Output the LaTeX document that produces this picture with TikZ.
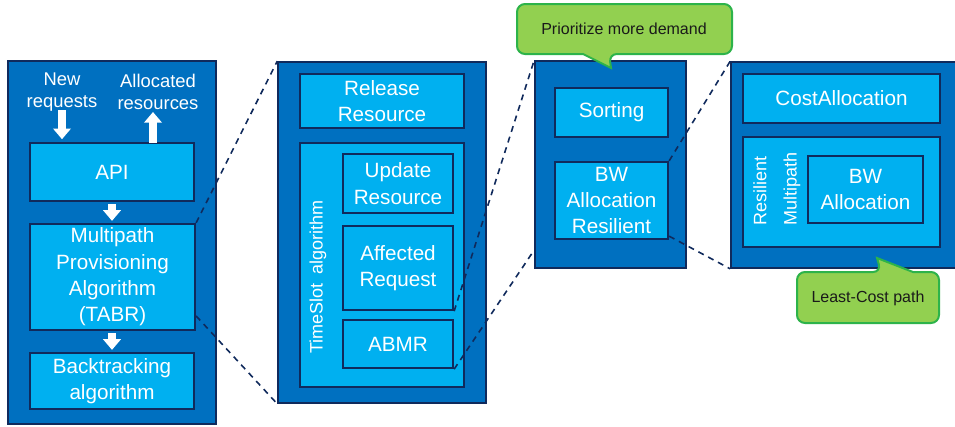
\documentclass[tikz,border=0pt]{standalone}
\usepackage{fontspec}
\setmainfont{Liberation Sans}
\usetikzlibrary{fit,arrows.meta,calc}

\definecolor{panelblue}{HTML}{0070C0}
\definecolor{lightblue}{HTML}{00B0F0}
\definecolor{navy}{HTML}{102A5C}
\definecolor{notegreen}{HTML}{92D050}
\definecolor{noteedge}{HTML}{2DB34A}
\definecolor{notetext}{HTML}{1A1A1A}

\tikzset{
  panel/.style={fill=panelblue, draw=navy, line width=1.2pt, inner sep=0pt},
  inbox/.style={fill=lightblue, draw=navy, line width=1.7pt, inner sep=0pt},
  boxtext/.style={text=white, align=center, inner sep=0pt,
    font=\fontsize{15.5}{19.8}\selectfont},
  lbl/.style={text=white, align=center, inner sep=0pt,
    font=\fontsize{13.8}{16.3}\selectfont},
  sidelbl/.style={text=white, rotate=90, inner sep=0pt,
    font=\fontsize{13.5}{16}\selectfont},
  zoomline/.style={draw=navy, line width=1.2pt, dash pattern=on 4.5pt off 3.8pt},
  blockarrow/.style={draw=white, line width=6.2pt,
    -{Triangle[length=8pt,width=13pt]}},
  note/.style={fill=notegreen, draw=noteedge, line width=1.5pt},
  notelbl/.style={text=notetext, inner sep=0pt, font=\fontsize{12}{14}\selectfont}
}

\begin{document}
\begin{tikzpicture}[x=0.75pt, y=-0.75pt]
  \useasboundingbox (0,0) rectangle (955,426);
  \clip (0,0) rectangle (955,426);

  % ---- panel 1: overall provisioning flow ----
  \node[panel, fit={(8,61) (216,424)}] (p1) {};
  \node[inbox, fit={(30,143) (194,201)},
    label={[boxtext]center:API}] (api) {};
  \node[inbox, fit={(30,224) (195,330)},
    label={[boxtext]center:{Multipath\\Provisioning\\Algorithm\\(TABR)}}] (multi) {};
  \node[inbox, fit={(30,353) (194,409)},
    label={[boxtext]center:{Backtracking\\algorithm}}] (back) {};

  \node[lbl] (newreq) at (62,92) {New\\requests};
  \node[lbl] (allocres) at (158,92) {Allocated\\resources};

  \coordinate (dntop) at (62,110);
  \coordinate (upfoot) at (153,143);
  \coordinate (uptip) at (153,112);
  \draw[blockarrow, shorten >=2pt] (dntop) -- (dntop |- api.north);
  \draw[blockarrow] (upfoot) -- (uptip);
  \draw[blockarrow, shorten <=1.5pt, shorten >=1.5pt] (api.south) -- (api.south |- multi.north);
  \draw[blockarrow, shorten <=1.5pt, shorten >=1.5pt] (multi.south -| api.south) -- (back.north);

  % ---- panel 2: TABR internals ----
  \node[panel, fit={(278,62) (486,403)}] (p2) {};
  \node[inbox, fit={(300,74) (464,128)},
    label={[boxtext]center:{Release\\Resource}}] (release) {};
  \node[inbox, fit={(300,143) (464,387)}] (tsbox) {};
  \node[sidelbl] (tslabel) at (318,277) {TimeSlot\hspace{0.25em} algorithm};
  \node[inbox, fit={(343,154) (453,213)},
    label={[boxtext]center:{Update\\Resource}}] (update) {};
  \node[inbox, fit={(343,226) (453,310)},
    label={[boxtext]center:{Affected\\Request}}] (affected) {};
  \node[inbox, fit={(343,320) (453,368)},
    label={[boxtext]center:ABMR}] (abmr) {};

  % ---- panel 3: ABMR internals ----
  \node[panel, fit={(535,61) (686,268)}] (p3) {};
  \node[inbox, fit={(555,88) (668,137)},
    label={[boxtext]center:Sorting}] (sorting) {};
  \node[inbox, fit={(555,162) (668,239)},
    label={[boxtext]center:{BW\\Allocation\\Resilient}}] (bwres) {};

  % ---- panel 4: resilient allocation internals ----
  \node[panel, fit={(731,62) (968,268)}] (p4) {};
  \node[inbox, fit={(743,74) (940,123)},
    label={[boxtext]center:CostAllocation}] (cost) {};
  \node[inbox, fit={(743,137) (940,247)}] (resmp) {};
  \node[sidelbl, anchor=west] (reslbl) at (760,226) {Resilient};
  \node[sidelbl, anchor=west] (mplbl) at (792,226) {Multipath};
  \node[inbox, fit={(808,156) (923,223)},
    label={[boxtext]center:{BW\\Allocation}}] (bwalloc) {};

  % ---- callouts ----
  \draw[note] (517,30) [rounded corners=6pt] -- (517,4) -- (732,4) -- (732,54)
    -- (609,54) [sharp corners] -- (611,68) -- (583,54) [rounded corners=6pt]
    -- (517,54) -- cycle;
  \node[notelbl] (prio) at (624,29) {Prioritize more demand};

  \draw[note] (797,298) [rounded corners=6pt] -- (797,272) -- (881,272)
    [sharp corners] -- (877,258) -- (913,272) [rounded corners=6pt]
    -- (939,272) -- (939,323) -- (797,323) -- cycle;
  \node[notelbl] (leastcost) at (868,298) {Least-Cost path};

  % ---- zoom connectors ----
  \draw[zoomline] (multi.north east) -- (p2.north west);
  \draw[zoomline] ($(multi.south east)!0.14!(multi.north east)$) -- (p2.south west);
  \draw[zoomline] (affected.south east) -- (p3.north west);
  \draw[zoomline] (abmr.south east) -- ($(p3.south west)!0.09!(p3.north west)$);
  \draw[zoomline] (bwres.north east) -- (p4.north west);
  \draw[zoomline] ($(bwres.south east)!0.05!(bwres.north east)$) -- (p4.south west);
\end{tikzpicture}
\end{document}
